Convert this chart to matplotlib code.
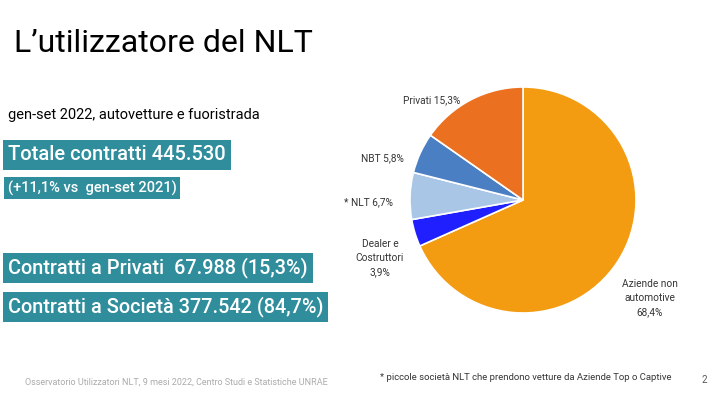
import matplotlib.pyplot as plt

labels = ['Aziende non\nautomotive\n68,4%', 'Dealer e\nCostruttori\n3,9%', '* NLT 6,7%', 'NBT 5,8%', 'Privati 15,3%']
shares = [68.4, 3.9, 6.7, 5.8, 15.3]
colors = ['#f39c12', '#1f1fff', '#a9c6e6', '#4a7fc4', '#eb7120']

font = 'Roboto'
teal = '#2f8d9c'

fig = plt.figure(figsize=(7.2, 4), dpi=100)
fig.patch.set_facecolor('white')

def px(x, y):
    return x / 720, 1 - y / 400

fig.text(*px(14, 43), 'L’utilizzatore del NLT', fontsize=23, family=font, va='center')
fig.text(*px(8, 115), 'gen-set 2022, autovetture e fuoristrada', fontsize=10.5, family=font, va='center')

def box(x, y, s, size):
    fig.text(*px(x, y), s, fontsize=size, family=font, color='white', va='center',
             fontweight='medium',
             bbox=dict(boxstyle='square,pad=0.25', fc=teal, ec='none'))

box(8, 155, 'Totale contratti 445.530', 14.5)
box(8, 188, '(+11,1% vs  gen-set 2021)', 10.5)
box(8, 268, 'Contratti a Privati  67.988 (15,3%)', 14.3)
box(8, 307, 'Contratti a Società 377.542 (84,7%)', 14.3)

fig.text(*px(25, 382), 'Osservatorio Utilizzatori NLT, 9 mesi 2022, Centro Studi e Statistiche UNRAE',
         fontsize=6.5, family=font, color='#aaaaaa', va='center')
fig.text(*px(380, 377), '* piccole società NLT che prendono vetture da Aziende Top o Captive',
         fontsize=6.8, family=font, color='#333333', va='center')
fig.text(*px(702, 380), '2', fontsize=7, family=font, color='#555555', va='center')

ax = fig.add_axes([(523 - 113) / 720, 1 - (200 + 113) / 400, 226 / 720, 226 / 400])
ax.pie(shares, colors=colors, startangle=90, counterclock=False,
       wedgeprops=dict(edgecolor='white', linewidth=1.2))
ax.set_xlim(-1, 1)
ax.set_ylim(-1, 1)
ax.set_aspect('equal')

lab_pos = [(650, 298), (380, 258), (368, 202), (382, 158), (432, 100)]
for (x, y), s in zip(lab_pos, labels):
    fig.text(*px(x, y), s, fontsize=7.3, family=font, ha='center', va='center',
             linespacing=1.5, color='#333333')

fig.savefig('out.png', dpi=100)
